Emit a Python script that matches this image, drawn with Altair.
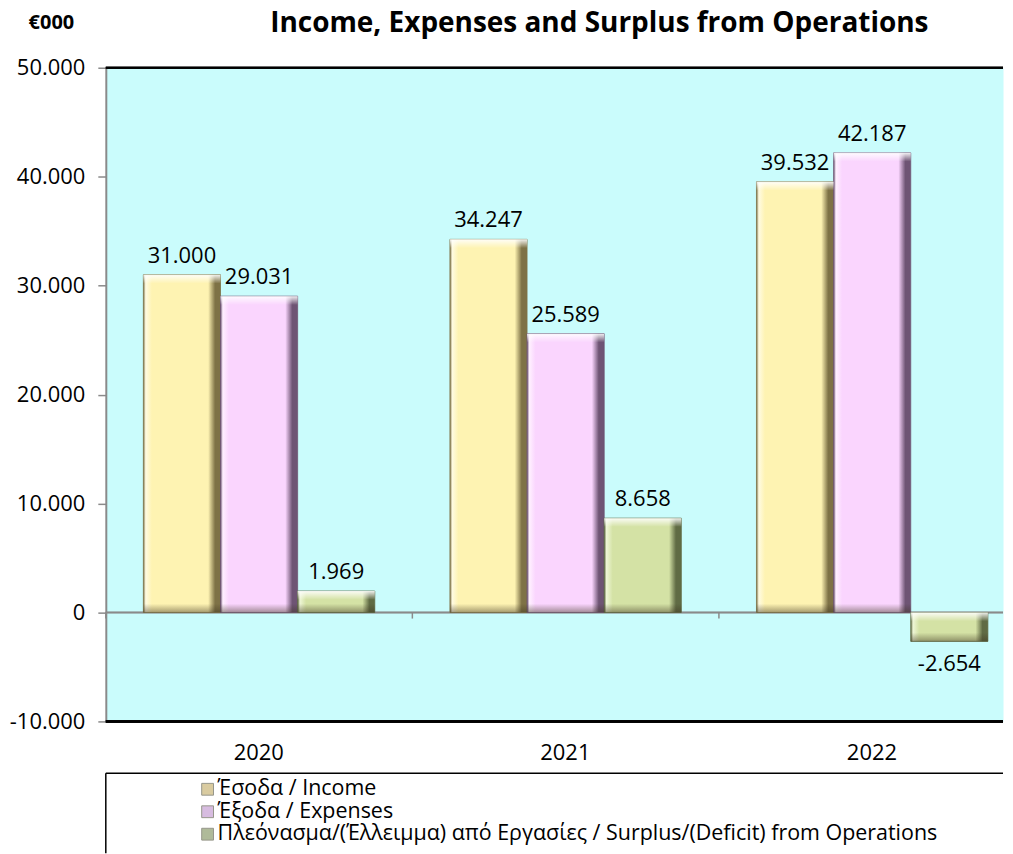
import altair as alt
import pandas as pd

years = ["2020", "2021", "2022"]
series = ["Έσοδα / Income", "Έξοδα / Expenses",
          "Πλεόνασμα/(Έλλειμμα) από Εργασίες / Surplus/(Deficit) from Operations"]
income = [31000, 34247, 39532]
expenses = [29031, 25589, 42187]
surplus = [1969, 8658, -2654]

# colours: (edge light, body, edge dark)
palette = [
    ("#FFFBE2", "#FEF3B2", "#7E7246"),
    ("#FFF0FF", "#FAD5FE", "#6E5474"),
    ("#EEF6D6", "#D4E2A5", "#606B44"),
]
legend_sym = ["#C9B679", "#C7A0D3", "#8E9E6E"]

rows = []
for vals, s in zip([income, expenses, surplus], series):
    for y, v in zip(years, vals):
        rows.append({"year": y, "series": s, "value": v,
                     "label": f"{v:,}".replace(",", ".")})
df = pd.DataFrame(rows)
year_df = pd.DataFrame({"year": years})

FONT = "Open Sans"
W = 899   # visible plot width (the category axis runs on past the window edge)
H = 655
NUM = 22

def hgrad(light, body, dark):
    return alt.Gradient(
        gradient="linear", x1=0, x2=1, y1=0, y2=0,
        stops=[
            alt.GradientStop(offset=0.0, color=dark),
            alt.GradientStop(offset=0.03, color=light),
            alt.GradientStop(offset=0.11, color=body),
            alt.GradientStop(offset=0.84, color=body),
            alt.GradientStop(offset=0.93, color=dark),
            alt.GradientStop(offset=1.0, color=dark),
        ],
    )

top_glow = alt.Gradient(gradient="linear", x1=0, x2=0, y1=0, y2=1, stops=[
    alt.GradientStop(offset=0, color="rgba(255,255,255,0.9)"),
    alt.GradientStop(offset=1, color="rgba(255,255,255,0)")])
bottom_shade = alt.Gradient(gradient="linear", x1=0, x2=0, y1=0, y2=1, stops=[
    alt.GradientStop(offset=0, color="rgba(60,50,30,0)"),
    alt.GradientStop(offset=1, color="rgba(60,50,30,0.45)")])

xscale = alt.Scale(domain=years, paddingInner=0.0733, paddingOuter=0)
xaxis = alt.Axis(orient="bottom", domain=False, ticks=False, labelPadding=21,
                 labelOffset=11, labelAngle=0, labelFontSize=NUM,
                 labelColor="#000000", labelFont=FONT)
x_enc = alt.X("year:N", title=None, scale=xscale, axis=xaxis)
xo_enc = alt.XOffset("series:N", sort=series,
                     scale=alt.Scale(domain=series, paddingOuter=0.3415,
                                     paddingInner=0, align=0.713))
yscale = alt.Scale(domain=[-10000, 50000], nice=False, zero=False)
yaxis = alt.Axis(values=[-10000, 0, 10000, 20000, 30000, 40000, 50000],
                 labelExpr="replace(replace(format(datum.value, ','), ',', '.'), '\u2212', '-')",
                 grid=False, domainColor="#8a8a8a", domainWidth=2,
                 tickColor="#8a8a8a", tickSize=8, tickWidth=1.5,
                 labelPadding=13, labelFontSize=NUM, labelFont=FONT,
                 labelColor="#000000",
                 title="€000", titleAngle=0, titleAlign="center",
                 titleBaseline="middle", titleX=-55, titleY=-45,
                 titleFontSize=20, titleFontWeight="bold", titleFont=FONT,
                 titleColor="#000000")
y_enc = alt.Y("value:Q", scale=yscale, axis=yaxis)

base = alt.Chart(df)

# category axis line at zero, with tick marks between the year groups
zero_line = alt.Chart(year_df).mark_rule(color="#8a8a8a", strokeWidth=1.5).encode(
    y=alt.datum(0))
cat_ticks = alt.Chart(year_df).mark_rule(color="#8a8a8a", strokeWidth=1.5).encode(
    x=alt.X("year:N", title=None, scale=xscale, axis=xaxis, bandPosition=0),
    y=alt.datum(0), y2=alt.datum(-560))

layers = []
for s, (light, body, dark) in zip(series, palette):
    layers.append(
        base.transform_filter(alt.datum.series == s)
        .mark_bar(fill=hgrad(light, body, dark), stroke=dark, strokeWidth=0.8)
        .encode(x=x_enc, xOffset=xo_enc, y=y_enc)
    )

# bevel highlights on top and shading at bottom of every bar
bevel = base.transform_calculate(
    top="max(datum.value, 0)", bot="min(datum.value, 0)"
).transform_calculate(
    top2="datum.top - 800", bot2="datum.bot + 800"
)
top_band = bevel.mark_bar(fill=top_glow, strokeOpacity=0).encode(
    x=x_enc, xOffset=xo_enc, y=alt.Y("top:Q", scale=yscale, axis=yaxis), y2="top2:Q")
bot_band = bevel.mark_bar(fill=bottom_shade, strokeOpacity=0).encode(
    x=x_enc, xOffset=xo_enc, y=alt.Y("bot2:Q", scale=yscale, axis=yaxis), y2="bot:Q")

pos_text = base.transform_filter(alt.datum.value >= 0).mark_text(
    baseline="alphabetic", dy=-12, fontSize=NUM, font=FONT, color="#000000"
).encode(x=x_enc, xOffset=xo_enc, y=y_enc, text="label:N")
neg_text = base.transform_filter(alt.datum.value < 0).mark_text(
    baseline="top", dy=13, fontSize=NUM, font=FONT, color="#000000"
).encode(x=x_enc, xOffset=xo_enc, y=y_enc, text="label:N")

top_line = alt.Chart(year_df).mark_rule(color="#000000", strokeWidth=2).encode(
    y=alt.datum(50000))
bottom_line = alt.Chart(year_df).mark_rule(color="#000000", strokeWidth=2.5).encode(
    y=alt.datum(-10000))

main = alt.layer(zero_line, cat_ticks, *layers, top_band, bot_band, pos_text,
                 neg_text, top_line, bottom_line).properties(
    width=W, height=H,
    title=alt.TitleParams("Income, Expenses and Surplus from Operations",
                          fontSize=28, fontWeight="bold", font=FONT,
                          anchor="middle", frame="group", dx=45, offset=-25,
                          color="#000000"),
    view=alt.ViewBackground(fill="#CAFCFC", stroke="transparent"),
)

LH = 80
leg_df = pd.DataFrame({"series": series, "sym": legend_sym})
leg_y = alt.Y("series:N", sort=series, axis=None,
              scale=alt.Scale(range=[16, 61], padding=0))
leg_sym = alt.Chart(leg_df).mark_square(size=140, strokeWidth=1).encode(
    x=alt.value(102), y=leg_y,
    fill=alt.Fill("sym:N", scale=None, legend=None),
    stroke=alt.value("#6a6a5a"))
leg_txt = alt.Chart(leg_df).mark_text(
    align="left", baseline="middle", fontSize=21.5, font=FONT, color="#000000"
).encode(x=alt.value(112), y=leg_y, text="series:N")
frame_df = pd.DataFrame({"k": [0]})
leg_left = alt.Chart(frame_df).mark_rule(color="#000000", strokeWidth=1.5).encode(
    x=alt.value(0), y=alt.value(0), y2=alt.value(LH))
leg_top = alt.Chart(frame_df).mark_rule(color="#000000", strokeWidth=1.5).encode(
    x=alt.value(0), x2=alt.value(W), y=alt.value(0))
legend_panel = alt.layer(leg_left, leg_top, leg_sym, leg_txt).properties(
    width=W, height=LH,
    view=alt.ViewBackground(fill="#FFFFFF", stroke="transparent"),
)

chart = alt.vconcat(main, legend_panel, spacing=7).properties(
    padding={"left": 0, "top": 0, "right": 0, "bottom": 0}
).configure(font=FONT).configure_view(stroke="transparent")

chart.save("out.html", embed_options={"renderer": "svg", "actions": False})
